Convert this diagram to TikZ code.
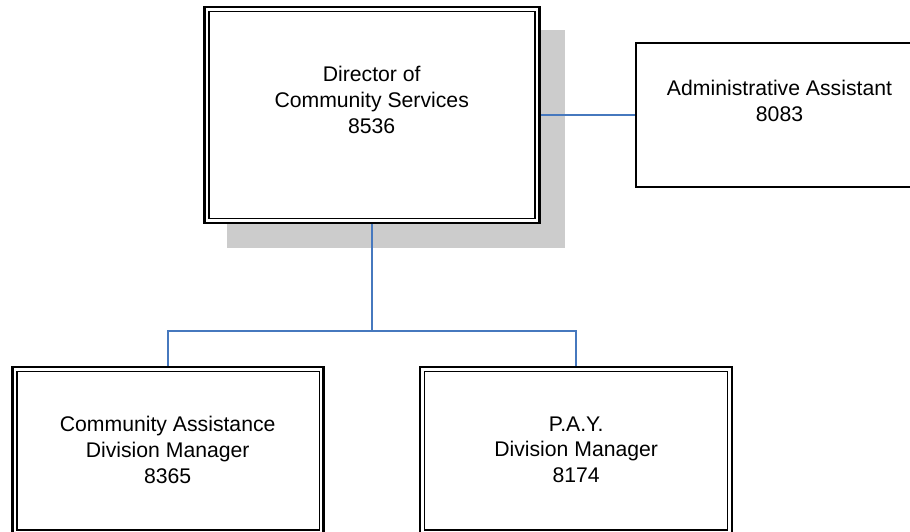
\documentclass[tikz,border=0pt]{standalone}
\usepackage{fontspec}
\setmainfont{Liberation Sans}
\usetikzlibrary{calc}
\definecolor{connblue}{RGB}{70,120,190}
\definecolor{shadowgray}{RGB}{204,204,204}
\pgfdeclarelayer{shadlayer}
\pgfdeclarelayer{connlayer}
\pgfsetlayers{shadlayer,connlayer,main}
\begin{document}
\begin{tikzpicture}[x=1pt,y=-1pt,
  dbox/.style={draw, line width=2.6pt, fill=white, inner sep=0pt, outer sep=0pt},
  sbox/.style={draw, line width=1.7pt, inner sep=0pt, outer sep=0pt},
  innerline/.style={draw, line width=1.3pt},
  label/.style={anchor=north, inner sep=0pt, align=center, font=\fontsize{21.2}{25.8}\selectfont},
  conn/.style={draw=connblue, line width=2pt}]
\useasboundingbox (0,0) rectangle (910,532);
\clip (0,0) rectangle (910,532);

% boxes
\node[dbox, minimum width=335.3pt, minimum height=216pt] (dir) at (372,115) {};
\draw[innerline] ($(dir.south west)+(4.6pt,4.6pt)$) rectangle ($(dir.north east)-(4.6pt,4.6pt)$);
\node[sbox, minimum width=287.4pt, minimum height=143.3pt] (admin) at (779.5,115) {};
\node[dbox, minimum width=311.5pt, minimum height=167.6pt] (cad) at (168,450.8) {};
\draw[innerline] ($(cad.south west)+(4.6pt,4.6pt)$) rectangle ($(cad.north east)-(4.6pt,4.6pt)$);
\node[dbox, minimum width=311.7pt, minimum height=167.6pt] (pay) at (576,450.8) {};
\draw[innerline] ($(pay.south west)+(4.6pt,4.6pt)$) rectangle ($(pay.north east)-(4.6pt,4.6pt)$);

% texts
\node[label] (dirtext) at (371.7,66.4) {Director of\\Community Services\\8536};
\node[label] (admintext) at (779.5,80.4) {Administrative Assistant\\8083};
\node[label] (cadtext) at (167.7,416.4) {Community Assistance\\Division Manager\\8365};
\node[label] (paytext) at (576.2,416.4) {P.A.Y.\\Division Manager\\8174};

% shadow
\begin{pgfonlayer}{shadlayer}
\fill[shadowgray] ($(dir.north west)+(22.65pt,-23pt)$) rectangle ($(dir.south east)+(25.35pt,-25pt)$);
\end{pgfonlayer}

% connectors
\coordinate (bus) at (372,331);
\begin{pgfonlayer}{connlayer}
\draw[conn] (dir.east) -- (admin.west);
\draw[conn] (dir.south) -- (bus);
\draw[conn] (cad.north) |- (bus) -| (pay.north);
\end{pgfonlayer}
\end{tikzpicture}
\end{document}
